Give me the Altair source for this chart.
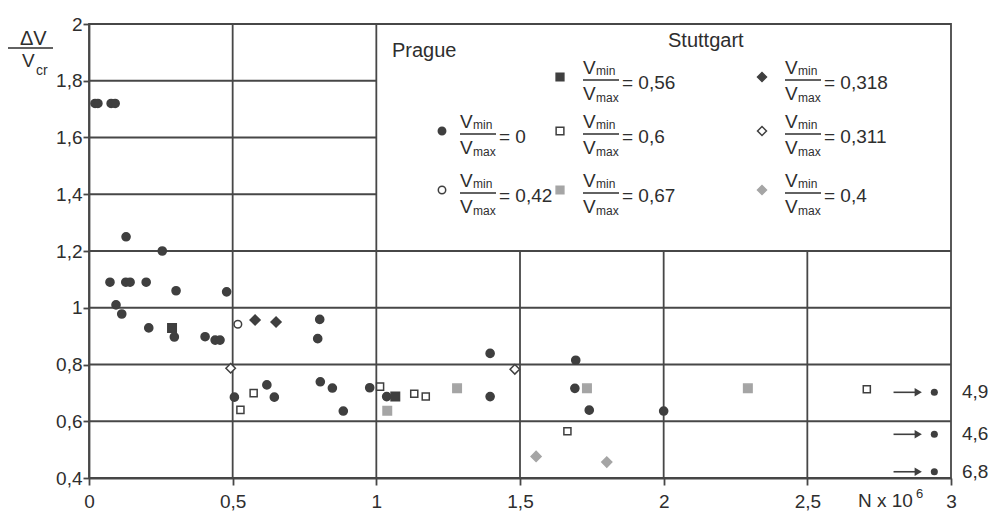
import altair as alt
import pandas as pd

FONT = "Liberation Sans"
DARK = "#3f3f3f"
GRAY = "#a5a5a5"
LINE = "#474747"
TXT = "#2e2e2e"
LEFT, TOP, W, H = 89, 24, 862, 454

# ---------------- data ----------------
# Prague, Vmin/Vmax = 0  (filled circles)
p0_x = [0.021, 0.031, 0.077, 0.091, 0.129, 0.255, 0.073, 0.128, 0.143, 0.199, 0.303, 0.479,
        0.094, 0.114, 0.208, 0.297, 0.404, 0.439, 0.456, 0.803, 0.796, 0.805, 0.847, 0.977,
        1.036, 0.619, 0.645, 0.506, 0.885, 1.396, 1.396, 1.694, 1.691, 1.741, 2.000]
p0_y = [1.72, 1.72, 1.72, 1.72, 1.25, 1.20, 1.09, 1.09, 1.09, 1.09, 1.06, 1.056,
        1.01, 0.978, 0.929, 0.897, 0.898, 0.886, 0.886, 0.959, 0.891, 0.739, 0.717, 0.718,
        0.687, 0.728, 0.685, 0.685, 0.636, 0.839, 0.687, 0.815, 0.716, 0.639, 0.636]
# Prague, Vmin/Vmax = 0.42 (open circle)
p042_x = [0.518]
p042_y = [0.942]
# Stuttgart 0.56 (filled square)
s056_x = [0.289, 1.066]
s056_y = [0.929, 0.687]
# Stuttgart 0.6 (open square)
s06_x = [0.527, 0.573, 1.013, 1.132, 1.172, 1.665, 2.707]
s06_y = [0.640, 0.699, 0.722, 0.697, 0.687, 0.565, 0.713]
# Stuttgart 0.67 (grey square)
s067_x = [1.038, 1.281, 1.733, 2.293]
s067_y = [0.637, 0.716, 0.716, 0.716]
# Stuttgart 0.318 (filled diamond)
s0318_x = [0.578, 0.651]
s0318_y = [0.957, 0.950]
# Stuttgart 0.311 (open diamond)
s0311_x = [0.493, 1.482]
s0311_y = [0.787, 0.783]
# Stuttgart 0.4 (grey diamond)
s04_x = [1.556, 1.802]
s04_y = [0.476, 0.456]
# run-outs (values beyond the axis)
run_x = [2.942, 2.942, 2.942]
run_y = [0.702, 0.554, 0.422]
run_labels = ["4,9", "4,6", "6,8"]

x_ticks = [0, 0.5, 1, 1.5, 2, 2.5, 3]
y_ticks = [0.4, 0.6, 0.8, 1.0, 1.2, 1.4, 1.6, 1.8, 2.0]

# ---------------- styles ----------------
STYLE = {
    "P0": ("circle", DARK, DARK, 66),
    "P042": ("circle", "white", DARK, 58),
    "S056": ("square", DARK, DARK, 72),
    "S06": ("square", "white", DARK, 50),
    "S067": ("square", GRAY, GRAY, 72),
    "S0318": ("diamond", DARK, DARK, 100),
    "S0311": ("diamond", "white", DARK, 90),
    "S04": ("diamond", GRAY, GRAY, 100),
}
LEG_SIZE = {"circle": 55, "square": 60, "diamond": 80}

series = [("P0", p0_x, p0_y), ("P042", p042_x, p042_y), ("S056", s056_x, s056_y),
          ("S06", s06_x, s06_y), ("S067", s067_x, s067_y), ("S0318", s0318_x, s0318_y),
          ("S0311", s0311_x, s0311_y), ("S04", s04_x, s04_y)]
rows = []
for name, xs_, ys_ in series:
    sh, fi, st, sz = STYLE[name]
    for a, b in zip(xs_, ys_):
        rows.append({"x": a, "y": b, "series": name, "shape": sh, "fill": fi, "stroke": st, "size": sz})
pts = pd.DataFrame(rows)
runs = pd.DataFrame({"x": run_x, "y": run_y, "label": run_labels})

# grid (the legend box region x>1, y>1.2 has no grid)
vgrid = pd.DataFrame({"gx": [0.5, 1, 1.5, 2, 2.5],
                      "gy1": [0.4, 0.4, 0.4, 0.4, 0.4],
                      "gy2": [2, 2, 1.2, 1.2, 1.2]})
hgrid = pd.DataFrame({"gy": [1.8, 1.6, 1.4, 1.2, 1.0, 0.8, 0.6],
                      "gx1": [0, 0, 0, 0, 0, 0, 0],
                      "gx2": [1, 1, 1, 3, 3, 3, 3]})

xs = alt.Scale(domain=[0, 3], nice=False, zero=False)
ys = alt.Scale(domain=[0.4, 2], nice=False, zero=False)
xax = alt.Axis(values=x_ticks, format="~g", labelExpr="replace(datum.label, '.', ',')", title=None,
               grid=False, tickSize=7, tickWidth=1.8, tickColor=LINE, domainColor=LINE, domainWidth=1.8,
               labelPadding=7, labelFont=FONT, labelFontSize=19, labelColor=TXT, labelFlush=False,
               labelOverlap=False)
yax = alt.Axis(values=y_ticks, format="~g", labelExpr="replace(datum.label, '.', ',')", title=None,
               grid=False, tickSize=6, tickWidth=1.8, tickColor=LINE, domainColor=LINE, domainWidth=1.8,
               labelPadding=1, labelFont=FONT, labelFontSize=19, labelColor=TXT, labelFlush=False,
               labelOverlap=False)

grid_v = alt.Chart(vgrid).mark_rule(color=LINE, strokeWidth=1.8).encode(
    x=alt.X("gx:Q", scale=xs, axis=xax), y=alt.Y("gy1:Q", scale=ys, axis=yax), y2="gy2:Q")
grid_h = alt.Chart(hgrid).mark_rule(color=LINE, strokeWidth=1.8).encode(
    y=alt.Y("gy:Q", scale=ys, axis=yax), x=alt.X("gx1:Q", scale=xs, axis=xax), x2="gx2:Q")

points = alt.Chart(pts).mark_point(filled=True, strokeWidth=1.5, opacity=1).encode(
    x=alt.X("x:Q", scale=xs, axis=xax),
    y=alt.Y("y:Q", scale=ys, axis=yax),
    shape=alt.Shape("shape:N", scale=None),
    fill=alt.Fill("fill:N", scale=None),
    stroke=alt.Stroke("stroke:N", scale=None),
    size=alt.Size("size:Q", scale=None),
)

run_base = alt.Chart(runs).transform_calculate(
    xs="datum.x - 0.142", xe="datum.x - 0.056")
run_pts = alt.Chart(runs).mark_circle(size=50, color=DARK, opacity=1).encode(
    x=alt.X("x:Q", scale=xs, axis=xax), y=alt.Y("y:Q", scale=ys, axis=yax))
run_shaft = run_base.mark_rule(color=DARK, strokeWidth=1.6).encode(
    x=alt.X("xs:Q", scale=xs, axis=xax), x2="xe:Q", y=alt.Y("y:Q", scale=ys, axis=yax))
run_head = run_base.mark_point(shape="triangle-right", filled=True, size=70, color=DARK, opacity=1).encode(
    x=alt.X("xe:Q", scale=xs, axis=xax), y=alt.Y("y:Q", scale=ys, axis=yax))
run_lab = alt.Chart(runs).mark_text(align="left", baseline="middle", font=FONT, fontSize=19,
                                    color=TXT).encode(
    x=alt.value(W + 11), y=alt.Y("y:Q", scale=ys, axis=yax), text="label:N")

# ---------------- custom legend & axis titles (page pixel layout) ----------------
cols = {1: (442, 460), 2: (560, 583), 3: (762, 785)}
rws = {1: 80, 2: 134, 3: 193}
legend_entries = [(2, 1, "S056", "= 0,56"), (3, 1, "S0318", "= 0,318"),
                  (1, 2, "P0", "= 0"), (2, 2, "S06", "= 0,6"), (3, 2, "S0311", "= 0,311"),
                  (1, 3, "P042", "= 0,42"), (2, 3, "S067", "= 0,67"), (3, 3, "S04", "= 0,4")]
texts, rules, syms = [], [], []
for c, r, name, val in legend_entries:
    sx, fx = cols[c]
    ly = rws[r]
    texts += [("V", fx, ly - 6, 19), ("min", fx + 13, ly - 5, 12),
              ("V", fx, ly + 20, 19), ("max", fx + 13, ly + 22, 12),
              (val, fx + 39, ly + 9, 19)]
    rules.append((fx, fx + 36, ly))
    sh, fi, st, _ = STYLE[name]
    syms.append((sx, ly - 3, sh, fi, st, LEG_SIZE[sh]))
texts += [("Prague", 392, 57, 20), ("Stuttgart", 668, 47, 20),
          ("ΔV", 20, 45, 20), ("V", 22, 67, 19), ("cr", 36, 75, 14),
          ("N x 10", 858, 507, 19), ("6", 916, 498, 13)]
rules.append((8, 53, 48))

tdf = pd.DataFrame([{"t": t, "tx": a - LEFT, "ty": b - TOP, "fs": f} for t, a, b, f in texts])
rdf = pd.DataFrame([{"rx1": a - LEFT, "rx2": b - LEFT, "ry": c - TOP} for a, b, c in rules])
sdf = pd.DataFrame([{"sx": a - LEFT, "sy": b - TOP, "shape": s, "fill": f, "stroke": k, "size": z}
                    for a, b, s, f, k, z in syms])

leg_text = alt.Chart(tdf).mark_text(align="left", baseline="alphabetic", font=FONT, color=TXT).encode(
    x=alt.X("tx:Q", scale=None, axis=None), y=alt.Y("ty:Q", scale=None, axis=None),
    text="t:N", size=alt.Size("fs:Q", scale=None))
leg_rule = alt.Chart(rdf).mark_rule(color=TXT, strokeWidth=1.3).encode(
    x=alt.X("rx1:Q", scale=None, axis=None), x2="rx2:Q", y=alt.Y("ry:Q", scale=None, axis=None))
leg_sym = alt.Chart(sdf).mark_point(filled=True, strokeWidth=1.5, opacity=1).encode(
    x=alt.X("sx:Q", scale=None, axis=None), y=alt.Y("sy:Q", scale=None, axis=None),
    shape=alt.Shape("shape:N", scale=None), fill=alt.Fill("fill:N", scale=None),
    stroke=alt.Stroke("stroke:N", scale=None), size=alt.Size("size:Q", scale=None))

chart = alt.layer(grid_v, grid_h, points, run_shaft, run_head, run_pts, run_lab,
                  leg_rule, leg_sym, leg_text).properties(
    width=W, height=H,
    autosize=alt.AutoSizeParams(type="none"),
    padding={"left": LEFT, "top": TOP, "right": 992 - LEFT - W, "bottom": 514 - TOP - H},
    background="white",
).configure_view(stroke=LINE, strokeWidth=1.8)

chart.save("out.html", embed_options={"renderer": "svg", "actions": False})
